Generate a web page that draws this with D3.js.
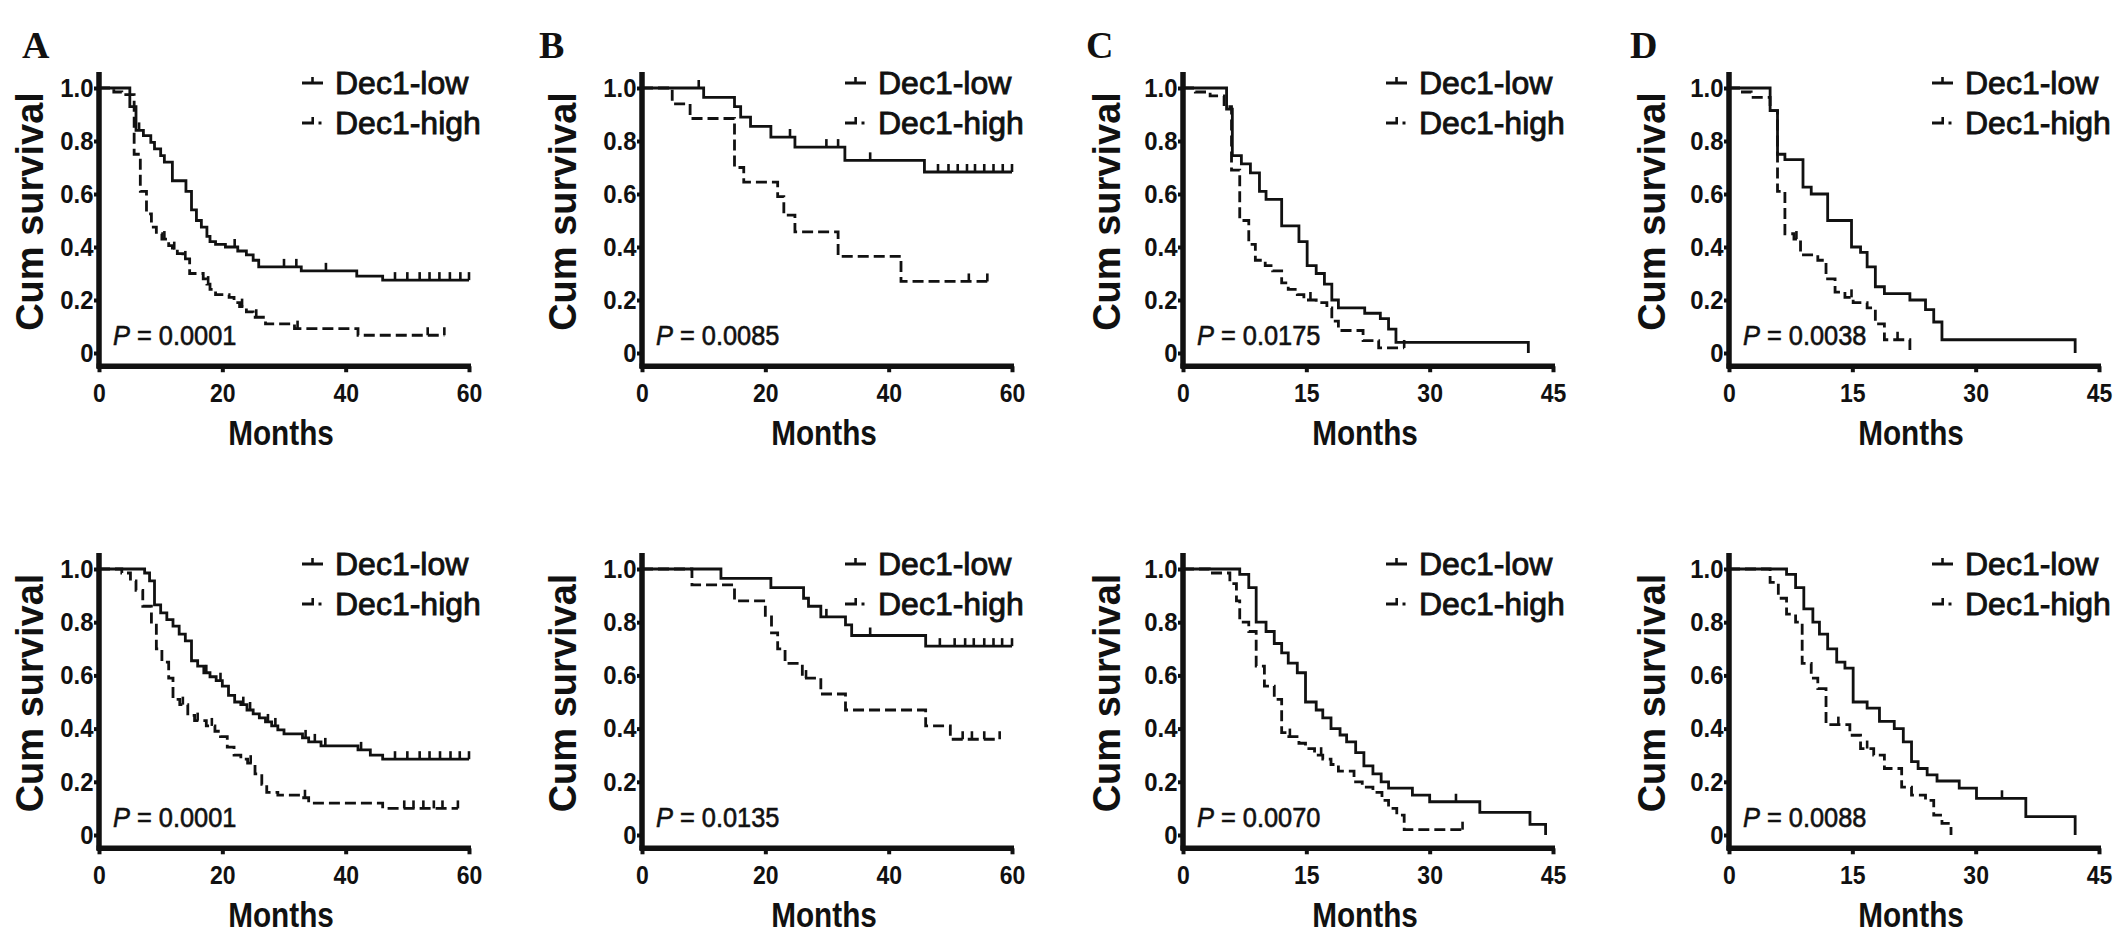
<!DOCTYPE html>
<html>
<head>
<meta charset="utf-8">
<script src="https://cdn.jsdelivr.net/npm/d3@7"></script>
<style>
  html, body { margin: 0; padding: 0; background: #fff; }
  svg { display: block; }
</style>
</head>
<body>
<div id="chart"></div>
<script>
// ---- data ----
const columnLetters = ["A", "B", "C", "D"];
const columnXMax = [60, 60, 45, 45];
const columnXTicks = [[0, 20, 40, 60], [0, 20, 40, 60], [0, 15, 30, 45], [0, 15, 30, 45]];
const yTickValues = [0, 0.2, 0.4, 0.6, 0.8, 1.0];
const seriesNames = ["Dec1-low", "Dec1-high"];
const pValues = ["0.0001", "0.0085", "0.0175", "0.0038", "0.0001", "0.0135", "0.0070", "0.0088"];

// [month, cumulative survival] step points; the last point marks where the curve ends
const lowA1 = [[0,1],[5,0.93],[6,0.84],[7.2,0.82],[8.4,0.795],[9,0.77],[10,0.745],[10.6,0.72],[11.9,0.65],[14.1,0.61],[15,0.54],[15.8,0.50],[16.6,0.475],[17.5,0.44],[18,0.42],[18.9,0.41],[20.5,0.40],[22.5,0.385],[23.9,0.37],[25,0.35],[25.9,0.325],[32.8,0.31],[41.8,0.29],[46,0.275],[60,0.275]];
const lowA1Cens = [6.5, 22, 30, 32, 36.8, 48, 50, 52, 53.6, 55.2, 56.9, 58.6, 60];
const highA1 = [[0,1],[2.4,0.985],[3.7,0.975],[5.7,0.75],[6.7,0.61],[7.7,0.525],[8.5,0.475],[9.3,0.45],[10.2,0.43],[11.3,0.405],[11.9,0.39],[12.7,0.375],[13.6,0.355],[14.7,0.30],[16.9,0.28],[17.5,0.26],[18,0.24],[18.9,0.22],[21.1,0.21],[21.9,0.19],[22.8,0.175],[23.9,0.155],[25,0.135],[27,0.11],[31.7,0.092],[42,0.067],[56,0.067]];
const highA1Cens = [10.6, 12.2, 14, 17.7, 23.2, 25.5, 32.2, 53.3, 56];

const lowB1 = [[0,1],[10,0.965],[15,0.93],[16,0.89],[17.6,0.855],[20.9,0.815],[24.8,0.777],[32.9,0.727],[45.8,0.683],[60,0.683]];
const lowB1Cens = [9.2, 24, 29.9, 31.8, 37, 48, 49.7, 51.2, 52.7, 54, 55.5, 57, 58.5, 60];
const highB1 = [[0,1],[4.9,0.94],[7.8,0.885],[15,0.70],[16.5,0.645],[22,0.59],[23,0.52],[24.8,0.457],[31.8,0.365],[42,0.27],[56,0.27]];
const highB1Cens = [53, 56];

const lowC1 = [[0,1],[5.3,0.92],[6,0.745],[7.1,0.714],[8.2,0.68],[9.3,0.61],[10.1,0.58],[12,0.48],[14.1,0.42],[15.1,0.33],[16.2,0.30],[17.2,0.26],[18.1,0.20],[18.9,0.17],[22.1,0.15],[24,0.13],[25,0.09],[25.9,0.04],[42,0],[42,0]];
const lowC1Cens = [];
const highC1 = [[0,1],[1.5,0.985],[3.3,0.97],[5,0.93],[5.9,0.69],[6.9,0.50],[8,0.41],[8.8,0.35],[10,0.33],[10.9,0.31],[12,0.265],[12.8,0.24],[13.9,0.22],[14.7,0.20],[16.2,0.19],[17.5,0.17],[18.1,0.12],[18.9,0.085],[21.9,0.047],[23.8,0.019],[26.9,0.019]];
const highC1Cens = [15.5, 26.9];

const lowD1 = [[0,1],[5,0.915],[5.9,0.75],[6.8,0.73],[9,0.626],[10,0.60],[12,0.50],[14.9,0.40],[16,0.38],[16.8,0.325],[17.8,0.25],[18.9,0.224],[22,0.20],[23.9,0.164],[24.9,0.117],[25.9,0.05],[42.1,0],[42.1,0]];
const lowD1Cens = [];
const highD1 = [[0,1],[1.45,0.985],[2.7,0.965],[5,0.915],[5.9,0.61],[6.8,0.45],[7.9,0.43],[8.7,0.37],[10.8,0.35],[11.8,0.28],[12.9,0.23],[14.1,0.21],[15.1,0.19],[16.8,0.17],[17.8,0.11],[18.9,0.05],[22,0],[22,0]];
const highD1Cens = [8.2, 14.9, 20.5];

const lowA2 = [[0,1],[7.4,0.985],[8.2,0.955],[9,0.865],[10,0.835],[11,0.81],[12,0.785],[13,0.755],[14,0.73],[15,0.655],[16,0.635],[17,0.61],[18,0.595],[19,0.58],[20,0.56],[21,0.525],[22,0.50],[23,0.49],[24,0.47],[25,0.455],[26,0.44],[27,0.425],[28,0.41],[29,0.395],[30,0.38],[33,0.365],[34,0.35],[36,0.335],[42,0.32],[44,0.30],[46,0.285],[60,0.285]];
const lowA2Cens = [17.4, 19.7, 23.4, 24.5, 27.4, 28.6, 33.5, 35, 36.7, 42.5, 48, 50, 52, 53.6, 55.3, 57, 58.5, 60];
const highA2 = [[0,1],[3.7,0.985],[5.1,0.955],[6,0.92],[7.1,0.86],[8.5,0.80],[9.3,0.70],[10.2,0.65],[11.3,0.59],[12,0.51],[13.1,0.49],[14.4,0.45],[15.5,0.43],[17.4,0.41],[18.8,0.39],[19.7,0.37],[20.8,0.33],[21.9,0.30],[23,0.285],[24.1,0.27],[25.3,0.23],[26.4,0.19],[27.2,0.16],[29,0.15],[32.8,0.14],[34,0.12],[46,0.10],[58.2,0.10]];
const highA2Cens = [13.6, 16, 18.3, 24.6, 33.4, 49.5, 51, 52.6, 54.3, 55.7, 58.2];

const lowB2 = [[0,1],[12.8,0.965],[20.9,0.93],[26.2,0.89],[27,0.86],[29,0.82],[33,0.79],[34,0.75],[46,0.71],[60,0.71]];
const lowB2Cens = [29.9, 37, 48.3, 50.7, 52.4, 53.8, 55.5, 57, 58.4, 60];
const highB2 = [[0,1],[8.1,0.94],[15,0.88],[20,0.82],[21,0.76],[22,0.70],[23.2,0.645],[26,0.59],[29,0.53],[33,0.47],[46,0.41],[50,0.36],[58,0.36]];
const highB2Cens = [26.6, 52, 53.5, 55.5, 58];

const lowC2 = [[0,1],[6.9,0.98],[8,0.93],[8.9,0.80],[10.1,0.765],[11.1,0.72],[12,0.685],[12.8,0.646],[13.9,0.61],[14.9,0.50],[16.2,0.47],[17,0.44],[18,0.40],[19.1,0.376],[19.9,0.35],[21,0.31],[22,0.26],[23.1,0.23],[24.1,0.20],[25,0.176],[27.9,0.15],[30,0.125],[36.1,0.085],[42.2,0.04],[44.1,0],[44.1,0]];
const lowC2Cens = [33.2];
const highC2 = [[0,1],[3.2,0.985],[5.7,0.945],[6.5,0.88],[6.9,0.80],[8,0.765],[8.9,0.635],[9.9,0.56],[11.1,0.51],[12,0.385],[12.6,0.37],[14.1,0.345],[14.9,0.325],[16,0.30],[17,0.285],[18,0.265],[18.9,0.24],[20.8,0.20],[21.8,0.18],[23.1,0.16],[24.2,0.13],[25,0.10],[26,0.075],[26.9,0.02],[34,0.02]];
const highC2Cens = [13, 16.8, 34];

const lowD2 = [[0,1],[7,0.98],[8.1,0.93],[9.1,0.85],[10.2,0.80],[11,0.755],[12,0.70],[13.1,0.65],[14.1,0.627],[15.1,0.50],[16.8,0.477],[18.3,0.427],[20.1,0.40],[21.2,0.35],[22.2,0.276],[23,0.25],[24.1,0.226],[25.3,0.203],[28,0.176],[30.1,0.138],[36.1,0.069],[42.1,0],[42.1,0]];
const lowD2Cens = [33.2];
const highD2 = [[0,1],[5,0.95],[6,0.89],[7,0.83],[8.1,0.80],[8.9,0.645],[10,0.59],[10.8,0.55],[11.8,0.415],[14.7,0.375],[16,0.325],[17.6,0.30],[18.9,0.25],[21,0.18],[22.2,0.15],[23.9,0.13],[24.9,0.075],[25.9,0.044],[27,0],[27,0]];
const highD2Cens = [13.3, 16.8];

const panels = [
  { low: lowA1, lowCens: lowA1Cens, high: highA1, highCens: highA1Cens },
  { low: lowB1, lowCens: lowB1Cens, high: highB1, highCens: highB1Cens },
  { low: lowC1, lowCens: lowC1Cens, high: highC1, highCens: highC1Cens },
  { low: lowD1, lowCens: lowD1Cens, high: highD1, highCens: highD1Cens },
  { low: lowA2, lowCens: lowA2Cens, high: highA2, highCens: highA2Cens },
  { low: lowB2, lowCens: lowB2Cens, high: highB2, highCens: highB2Cens },
  { low: lowC2, lowCens: lowC2Cens, high: highC2, highCens: highC2Cens },
  { low: lowD2, lowCens: lowD2Cens, high: highD2, highCens: highD2Cens }
];

// ---- layout ----
const svgWidth = 2126, svgHeight = 942;
const colX0 = [99, 642, 1183, 1729];
const plotW = 370;
const rowY1 = [88, 569], rowY0 = [353, 835];
const titleDx = [-70, -80, -77, -78];
const letterX = [22, 539, 1086, 1630];
const ink = "#111";
const sans = "'Liberation Sans', Arial, Helvetica, sans-serif";

const svg = d3.select("#chart").append("svg")
  .attr("width", svgWidth).attr("height", svgHeight)
  .attr("viewBox", `0 0 ${svgWidth} ${svgHeight}`);

svg.append("rect").attr("width", svgWidth).attr("height", svgHeight).attr("fill", "#fff");

function survAt(steps, t) {
  let s = steps[0][1];
  steps.forEach(function(p) { if (p[0] <= t) s = p[1]; });
  return s;
}

// letters above the top row
columnLetters.forEach(function(letter, c) {
  svg.append("text")
    .attr("x", letterX[c]).attr("y", 58)
    .attr("font-family", "'Liberation Serif', 'Times New Roman', serif")
    .attr("font-weight", "700").attr("font-size", "38px")
    .attr("fill", ink).text(letter);
});

panels.forEach(function(p, i) {
  let col = i % 4, row = Math.floor(i / 4);
  let x = d3.scaleLinear().domain([0, columnXMax[col]]).range([colX0[col], colX0[col] + plotW]);
  let y = d3.scaleLinear().domain([0, 1]).range([rowY0[row], rowY1[row]]);
  let axisY = y(-0.05);
  let g = svg.append("g");

  // curves
  let line = d3.line().curve(d3.curveStepAfter)
    .x(function(d) { return x(d[0]); })
    .y(function(d) { return y(d[1]); });

  [["high", "11,5"], ["low", null]].forEach(function(s) {
    g.append("path")
      .datum(p[s[0]])
      .attr("d", line)
      .attr("fill", "none")
      .attr("stroke", ink)
      .attr("stroke-width", 2.8)
      .attr("stroke-dasharray", s[1]);
    g.selectAll(null)
      .data(p[s[0] + "Cens"])
      .enter().append("line")
        .attr("x1", function(d) { return x(d); })
        .attr("x2", function(d) { return x(d); })
        .attr("y1", function(d) { return y(survAt(p[s[0]], d)); })
        .attr("y2", function(d) { return y(survAt(p[s[0]], d)) - 8; })
        .attr("stroke", ink).attr("stroke-width", 2.6);
  });

  // axes
  let xAxis = g.append("g")
    .attr("transform", `translate(0,${axisY})`)
    .call(d3.axisBottom(x).tickValues(columnXTicks[col]).tickSize(6).tickPadding(12).tickFormat(d3.format("d")));
  let yAxis = g.append("g")
    .attr("transform", `translate(${x(0)},0)`)
    .call(d3.axisLeft(y).tickValues(yTickValues).tickSize(5).tickPadding(1)
      .tickFormat(function(d) { return d === 0 ? "0" : d3.format(".1f")(d); }));

  [[xAxis, "25px"], [yAxis, "26px"]].forEach(function(a) {
    a[0].select(".domain").remove();
    a[0].selectAll(".tick line").attr("stroke", ink).attr("stroke-width", 4);
    a[0].selectAll(".tick text")
      .attr("fill", ink)
      .attr("font-family", sans).attr("font-weight", "700").attr("font-size", a[1])
      .attr("transform", "scale(0.92,1)");
  });

  g.append("line")
    .attr("x1", x(0)).attr("x2", x(0))
    .attr("y1", y(1.06)).attr("y2", axisY + 2)
    .attr("stroke", ink).attr("stroke-width", 5.5);
  g.append("line")
    .attr("x1", x(0) - 2.5).attr("x2", x(columnXMax[col]) + 2)
    .attr("y1", axisY).attr("y2", axisY)
    .attr("stroke", ink).attr("stroke-width", 5.5);

  // axis titles
  g.append("text")
    .attr("transform", `translate(${(x(0) + x(columnXMax[col])) / 2 - 3},${axisY + 79}) scale(0.85,1)`)
    .attr("text-anchor", "middle")
    .attr("font-family", sans).attr("font-weight", "700").attr("font-size", "35px")
    .attr("fill", ink).text("Months");

  g.append("text")
    .attr("transform", `translate(${x(0) + titleDx[col] + 14},${(y(0) + y(1)) / 2 - 9}) rotate(-90)`)
    .attr("text-anchor", "middle")
    .attr("font-family", sans).attr("font-weight", "700").attr("font-size", "38px")
    .attr("fill", ink).text("Cum survival");

  // legend
  let lx = x(0);
  let ly = y(1);
  g.append("line").attr("x1", lx + 203).attr("x2", lx + 224).attr("y1", ly - 5).attr("y2", ly - 5)
    .attr("stroke", ink).attr("stroke-width", 3);
  g.append("line").attr("x1", lx + 213.5).attr("x2", lx + 213.5).attr("y1", ly - 5).attr("y2", ly - 11)
    .attr("stroke", ink).attr("stroke-width", 2.6);
  g.append("line").attr("x1", lx + 203).attr("x2", lx + 215).attr("y1", ly + 35).attr("y2", ly + 35)
    .attr("stroke", ink).attr("stroke-width", 3);
  g.append("line").attr("x1", lx + 213.7).attr("x2", lx + 213.7).attr("y1", ly + 35).attr("y2", ly + 29)
    .attr("stroke", ink).attr("stroke-width", 2.6);
  g.append("line").attr("x1", lx + 219.5).attr("x2", lx + 222.5).attr("y1", ly + 35).attr("y2", ly + 35)
    .attr("stroke", ink).attr("stroke-width", 3);

  seriesNames.forEach(function(name, k) {
    g.append("text")
      .attr("x", lx + 236).attr("y", ly + 6 + k * 40)
      .attr("font-family", sans).attr("font-size", "32px")
      .attr("fill", ink).attr("stroke", ink).attr("stroke-width", 0.9)
      .text(name);
  });

  // p value
  let pt = g.append("text")
    .attr("transform", `translate(${x(0) + 14},${y(0) - 8}) scale(0.94,1)`)
    .attr("font-family", sans).attr("font-size", "27px")
    .attr("fill", ink).attr("stroke", ink).attr("stroke-width", 0.6);
  pt.append("tspan").attr("font-style", "italic").text("P");
  pt.append("tspan").text(" = " + pValues[i]);
});
</script>
</body>
</html>
